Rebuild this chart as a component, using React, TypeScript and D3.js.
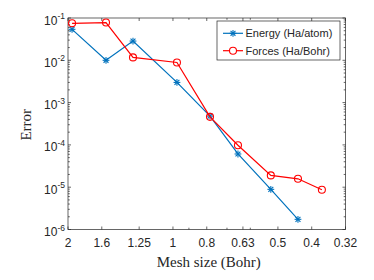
import * as d3 from "d3";

const meshSize = [1.947, 1.556, 1.302, 0.974, 0.783, 0.651, 0.524, 0.438, 0.374];
const energyError = [0.054, 0.01, 0.0285, 0.003, 4.8e-4, 6.1e-5, 8.9e-6, 1.74e-6];
const forceError = [0.075, 0.078, 0.0117, 0.0089, 4.6e-4, 9.8e-5, 1.9e-5, 1.58e-5, 8.7e-6];
const xTicks = [2, 1.6, 1.25, 1, 0.8, 0.63, 0.5, 0.4, 0.32];
const xMinorTicks = [0.9, 0.7, 0.6];
const yExponents = [-1, -2, -3, -4, -5, -6];
const seriesNames = ["Energy (Ha/atom)", "Forces (Ha/Bohr)"];

const W = 374;
const H = 280;
const left = 68;
const right = 345.5;
const top = 18;
const bottom = 229.5;
const axisColor = "#262626";
const blue = "#0072BD";
const red = "#FF0000";

const Asterisk = ({ x, y, s = 3.4 }: { x: number; y: number; s?: number }) => {
  const d = s * 0.72;
  return (
    <g stroke={blue} strokeWidth={1.1}>
      <line x1={x - s} y1={y} x2={x + s} y2={y} />
      <line x1={x} y1={y - s} x2={x} y2={y + s} />
      <line x1={x - d} y1={y - d} x2={x + d} y2={y + d} />
      <line x1={x - d} y1={y + d} x2={x + d} y2={y - d} />
    </g>
  );
};

export default function App() {
  const x = d3.scaleLog().domain([2, 0.32]).range([left, right]);
  const y = d3.scaleLog().domain([1e-6, 1e-1]).range([bottom, top]);

  const line = d3
    .line<[number, number]>()
    .x((d) => x(d[0]))
    .y((d) => y(d[1]));

  const energyPts = energyError.map((e, i) => [meshSize[i], e] as [number, number]);
  const forcePts = forceError.map((e, i) => [meshSize[i], e] as [number, number]);

  const yMinor: number[] = [];
  for (let e = -6; e < -1; e++) {
    for (let k = 2; k <= 9; k++) yMinor.push(k * Math.pow(10, e));
  }

  const font = "'Liberation Sans', Arial, Helvetica, sans-serif";
  const serif = "'Liberation Serif', 'Times New Roman', serif";
  const majorLen = 3;
  const minorLen = 1.8;

  // legend geometry
  const lgX = 217;
  const lgY = 21;
  const lgW = 123;
  const lgH = 39;

  return (
    <div style={{ position: "fixed", left: 0, top: 0 }}>
      <svg width={W} height={H} style={{ display: "block", background: "#fff" }}>
        {/* axis box */}
        <rect
          x={left}
          y={top}
          width={right - left}
          height={bottom - top}
          fill="#fff"
          stroke={axisColor}
          strokeWidth={0.7}
        />

        {/* ticks */}
        <g stroke={axisColor} strokeWidth={0.7}>
          {xTicks.map((t) => (
            <g key={"xt" + t}>
              <line x1={x(t)} x2={x(t)} y1={bottom} y2={bottom - majorLen} />
              <line x1={x(t)} x2={x(t)} y1={top} y2={top + majorLen} />
            </g>
          ))}
          {xMinorTicks.map((t) => (
            <g key={"xm" + t}>
              <line x1={x(t)} x2={x(t)} y1={bottom} y2={bottom - minorLen} />
              <line x1={x(t)} x2={x(t)} y1={top} y2={top + minorLen} />
            </g>
          ))}
          {yExponents.map((e) => {
            const v = y(Math.pow(10, e));
            return (
              <g key={"yt" + e}>
                <line x1={left} x2={left + majorLen} y1={v} y2={v} />
                <line x1={right} x2={right - majorLen} y1={v} y2={v} />
              </g>
            );
          })}
          {yMinor.map((m, i) => {
            const v = y(m);
            return (
              <g key={"ym" + i}>
                <line x1={left} x2={left + minorLen} y1={v} y2={v} />
                <line x1={right} x2={right - minorLen} y1={v} y2={v} />
              </g>
            );
          })}
        </g>

        {/* x tick labels */}
        <g fontFamily={font} fontSize={12} fill={axisColor} textAnchor="middle">
          {xTicks.map((t) => (
            <text key={"xl" + t} x={x(t)} y={246.5}>
              {String(t)}
            </text>
          ))}
        </g>

        {/* y tick labels */}
        <g fontFamily={font} fill={axisColor}>
          {yExponents.map((e) => {
            const v = y(Math.pow(10, e));
            return (
              <text key={"yl" + e} x={65} y={v + 6.5} textAnchor="end" fontSize={12}>
                10
                <tspan fontSize={8.5} dy={-5.5}>
                  {"-" + Math.abs(e)}
                </tspan>
              </text>
            );
          })}
        </g>

        {/* axis labels */}
        <text
          x={(left + right) / 2 + 2}
          y={267}
          textAnchor="middle"
          fontFamily={serif}
          fontSize={15}
          fill={axisColor}
        >
          Mesh size (Bohr)
        </text>
        <text
          transform={`translate(31,${(top + bottom) / 2 + 1}) rotate(-90)`}
          textAnchor="middle"
          fontFamily={serif}
          fontSize={15}
          fill={axisColor}
        >
          Error
        </text>

        {/* series */}
        <path d={line(energyPts) ?? ""} fill="none" stroke={blue} strokeWidth={1.2} />
        {energyPts.map((p, i) => (
          <Asterisk key={"e" + i} x={x(p[0])} y={y(p[1])} />
        ))}
        <path d={line(forcePts) ?? ""} fill="none" stroke={red} strokeWidth={1.2} />
        {forcePts.map((p, i) => (
          <circle
            key={"f" + i}
            cx={x(p[0])}
            cy={y(p[1])}
            r={3.5}
            fill="none"
            stroke={red}
            strokeWidth={1.1}
          />
        ))}

        {/* legend */}
        <rect x={lgX} y={lgY} width={lgW} height={lgH} fill="#fff" stroke={axisColor} strokeWidth={0.7} />
        <line x1={223} x2={243} y1={33.3} y2={33.3} stroke={blue} strokeWidth={1.2} />
        <Asterisk x={233} y={33.3} />
        <line x1={223} x2={243} y1={50.7} y2={50.7} stroke={red} strokeWidth={1.2} />
        <circle cx={233} cy={50.7} r={3.5} fill="#fff" stroke={red} strokeWidth={1.1} />
        <g fontFamily={font} fontSize={11} fill={axisColor}>
          <text x={245.5} y={37.3}>
            {seriesNames[0]}
          </text>
          <text x={245.5} y={54.7}>
            {seriesNames[1]}
          </text>
        </g>
      </svg>
    </div>
  );
}
